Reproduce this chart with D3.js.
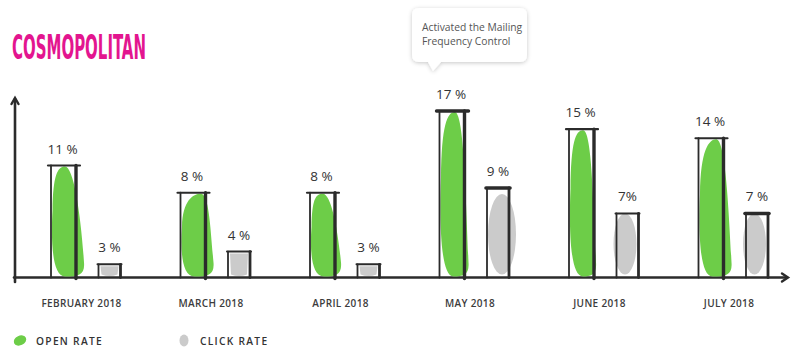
<!DOCTYPE html>
<html><head><meta charset="utf-8">
<script src="https://cdn.jsdelivr.net/npm/d3@7"></script>
<style>
html,body{margin:0;padding:0;background:#fff;}
svg{display:block;}
</style></head>
<body>
<svg id="chart" width="800" height="358"></svg>
<script>
const months = ["FEBRUARY 2018","MARCH 2018","APRIL 2018","MAY 2018","JUNE 2018","JULY 2018"];
const openRate = [11, 8, 8, 17, 15, 14];
const clickRate = [3, 4, 3, 9, 7, 7];
const openLabels = ["11 %","8 %","8 %","17 %","15 %","14 %"];
const clickLabels = ["3 %","4 %","3 %","9 %","7%","7 %"];
const legendItems = ["OPEN RATE","CLICK RATE"];
const calloutLines = ["Activated the Mailing","Frequency Control"];
const brand = "COSMOPOLITAN";

const svg = d3.select("#chart");
const base = 277.5;
const green = "#6dcd48", grey = "#cbcbcb", ink = "#2b2b2b";

const defs = svg.append("defs");
const f = defs.append("filter").attr("id","sh").attr("x","-20%").attr("y","-20%").attr("width","140%").attr("height","150%");
f.append("feDropShadow").attr("dx",0).attr("dy",1).attr("stdDeviation",2.2).attr("flood-color","#000").attr("flood-opacity",0.22);

// brand
svg.append("text").attr("x",12).attr("y",58.5).text(brand)
  .attr("font-family","'Liberation Sans Narrow','DejaVu Sans Condensed','Liberation Sans',sans-serif")
  .attr("font-weight","bold").attr("font-size",33).attr("fill","#e3158f")
  .attr("textLength",134).attr("lengthAdjust","spacingAndGlyphs");

const x = d3.scaleBand().domain(months).range([16.75, 793.75]);
// the sketch is drawn with a separate (hand-drawn) scale per series
const yOpen = d3.scaleLinear().domain([-1.33, 17]).range([base, 111]);
const yClick = d3.scaleLinear().domain([1.96, 9]).range([base, 188]);

// axes
const axis = svg.append("g").attr("stroke",ink).attr("fill","none").attr("stroke-linecap","round");
axis.append("path").attr("d",`M15,282 L15,99`).attr("stroke-width",2.6);
axis.append("path").attr("d",`M11.5,104 L15,98 L18.5,104`).attr("stroke-width",2.4);
axis.append("path").attr("d",`M14,277.5 L787,277.5`).attr("stroke-width",2.6);
axis.append("path").attr("d",`M782,273.5 L788,277.5 L782,281.5`).attr("stroke-width",2.4);

function blob(x0, x1, top, bottom, ext, lean){
  const w = x1 - x0, h = bottom - top;
  const l = x0 + 1.5, r = x1 + ext;
  const tx = l + w*lean;
  return `M${tx},${top}`+
    ` C${tx + w*0.35},${top} ${r-3},${top + h*0.45} ${r},${bottom - Math.min(14,h*0.3)}`+
    ` C${r+1},${bottom-2} ${r-5},${bottom} ${l + w*0.5},${bottom}`+
    ` C${l-1},${bottom} ${l-1.5},${bottom - h*0.35} ${l},${top + h*0.4}`+
    ` C${l+0.5},${top + h*0.08} ${tx - w*0.3},${top} ${tx},${top} Z`;
}
const openExt = [8, 8, 6, 4, 2, 8];
const openLean = [0.5, 0.75, 0.45, 0.55, 0.5, 0.65];
const clickExt = [0, 0, 0, 7, -2, -2];

const ow = 25, cw = 22;
months.forEach((m, i) => {
  const c = x(m) + x.bandwidth()/2;
  // open bar
  const ox0 = c - 18 - ow/2, ox1 = ox0 + ow, oy = yOpen(openRate[i]);
  svg.append("path").attr("d", blob(ox0, ox1, oy + 1, base - 1, openExt[i], openLean[i])).attr("fill", green);
  const g = svg.append("g").attr("stroke", ink).attr("fill","none").attr("stroke-linecap","round");
  g.append("line").attr("x1",ox0).attr("x2",ox0).attr("y1",oy).attr("y2",base).attr("stroke-width",1.8);
  g.append("line").attr("x1",ox1).attr("x2",ox1).attr("y1",oy).attr("y2",base+1).attr("stroke-width",3.4);
  g.append("line").attr("x1",ox0-3).attr("x2",ox1+4).attr("y1",oy).attr("y2",oy).attr("stroke-width",i===3?3.4:2.2);
  svg.append("text").attr("x", c - 19).attr("y", oy - 12).attr("text-anchor","middle").text(openLabels[i])
    .attr("font-family","'Open Sans',sans-serif").attr("font-size",13.5).attr("fill","#333");

  // click bar
  const cx0 = c + 28 - cw/2, cx1 = cx0 + cw, cy = yClick(clickRate[i]);
  const ch = base - cy;
  if (ch > 30) {
    const bx0 = cx0 + 1 + (i===3?0:-4), bx1 = cx1 + clickExt[i];
    const bt = cy + (i===3?6:0), bb = base - 3;
    const mx = (bx0 + bx1)/2, rx = (bx1 - bx0)/2, ry = (bb - bt)/2, my = (bt + bb)/2;
    svg.append("ellipse").attr("cx",mx).attr("cy",my).attr("rx",rx).attr("ry",ry).attr("fill",grey);
  } else {
    svg.append("path").attr("d", `M${cx0+2},${cy+2} L${cx1-2},${cy+2} L${cx1-3},${base-3} Q${(cx0+cx1)/2},${base} ${cx0+3},${base-3} Z`).attr("fill",grey);
  }
  const g2 = svg.append("g").attr("stroke", ink).attr("fill","none").attr("stroke-linecap","round");
  g2.append("line").attr("x1",cx0).attr("x2",cx0).attr("y1",cy).attr("y2",base).attr("stroke-width",1.8);
  g2.append("line").attr("x1",cx1).attr("x2",cx1).attr("y1",cy).attr("y2",base).attr("stroke-width",2.8);
  g2.append("line").attr("x1",cx0-1).attr("x2",cx1+1).attr("y1",cy).attr("y2",cy).attr("stroke-width",(i===3||i===5)?3.6:2);
  svg.append("text").attr("x", c + 28).attr("y", cy - 12).attr("text-anchor","middle").text(clickLabels[i])
    .attr("font-family","'Open Sans',sans-serif").attr("font-size",13.5).attr("fill","#333");

  // month label
  svg.append("text").attr("x", c).attr("y", 307).attr("text-anchor","middle").text(m)
    .attr("font-family","'Open Sans',sans-serif").attr("font-weight","600").attr("font-size",10)
    .attr("letter-spacing",0.35).attr("fill","#3c3c3c");
});

// legend
const lg = svg.append("g");
const legendX = [20, 184];
const legendColor = [green, grey];
legendItems.forEach((t, i) => {
  const gi = lg.append("g").attr("transform", `translate(${legendX[i]},340.5)`);
  if (i === 0) gi.append("ellipse").attr("rx",6.5).attr("ry",4.8).attr("transform","rotate(-25)").attr("fill",legendColor[i]);
  else gi.append("ellipse").attr("rx",4.5).attr("ry",6).attr("fill",legendColor[i]);
  gi.append("text").attr("x",16).attr("y",4).text(t)
    .attr("font-family","'Open Sans',sans-serif").attr("font-weight","600").attr("font-size",10.2)
    .attr("letter-spacing",1.3).attr("fill","#333");
});

// callout
const co = svg.append("g").attr("filter","url(#sh)");
co.append("path").attr("d", "M419,8 L520,8 Q527,8 527,15 L527,55 Q527,62 520,62 L441,62 L433,71 L428,62 L419,62 Q412,62 412,55 L412,15 Q412,8 419,8 Z")
  .attr("fill","#fff");
calloutLines.forEach((t, i) => {
  svg.append("text").attr("x",422).attr("y",31 + i*14).text(t)
    .attr("font-family","'Open Sans',sans-serif").attr("font-size",10.3).attr("fill","#555");
});
</script>
</body></html>
